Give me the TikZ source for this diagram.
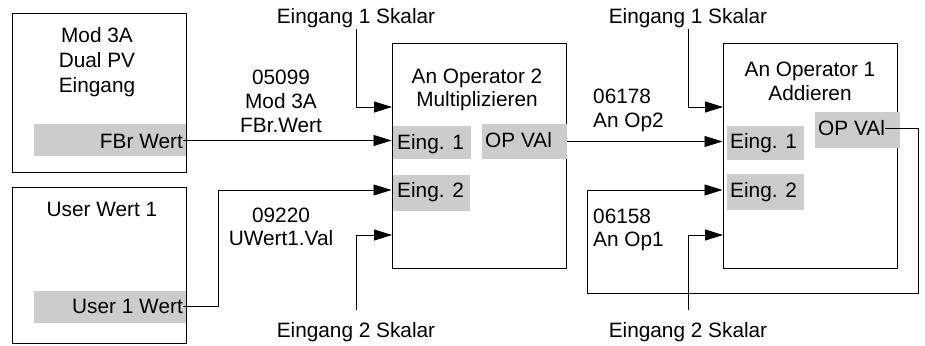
\documentclass[tikz,border=0pt]{standalone}
\usepackage{fontspec}
\setmainfont{Liberation Sans}
\usetikzlibrary{arrows.meta}
\definecolor{lgray}{RGB}{204,204,204}
\begin{document}
\begin{tikzpicture}[x=1pt,y=-1pt,
  font=\fontsize{20.8}{25}\selectfont,
  blk/.style={draw=black, line width=1pt, inner sep=0pt},
  gbox/.style={fill=lgray, draw=none, inner sep=0pt},
  lbl/.style={inner sep=0pt, text height=15pt, text depth=0pt},
  arr/.style={draw=black, line width=0.8pt, -{Triangle[length=18pt,width=11pt]}}]
\useasboundingbox (0,0) rectangle (925,345);

% blocks
\node[blk, minimum width=174, minimum height=158] (mod) at (99,93) {};
\node[blk, minimum width=174, minimum height=156] (usr) at (99,265) {};
\node[blk, minimum width=174, minimum height=224] (op2) at (479,156) {};
\node[blk, minimum width=174, minimum height=224] (op1) at (810,156) {};

% grey fields
\node[gbox, minimum width=152, minimum height=32] (fbrbg) at (110,140) {};
\node[gbox, minimum width=152, minimum height=32] (usrbg) at (110,307) {};
\node[gbox, minimum width=78, minimum height=33] (o2e1bg) at (432,142.5) {};
\node[gbox, minimum width=85, minimum height=35] (o2opbg) at (524.5,141.5) {};
\node[gbox, minimum width=77, minimum height=36] (o2e2bg) at (431.5,193) {};
\node[gbox, minimum width=77, minimum height=34] (o1e1bg) at (765.5,143) {};
\node[gbox, minimum width=77, minimum height=36] (o1e2bg) at (765.5,192) {};
\node[gbox, minimum width=85, minimum height=36] (o1opbg) at (857.5,130) {};

% block texts
\node[lbl] (mod1) at (97,35.5) {Mod 3A};
\node[lbl] (mod2) at (97,60) {Dual PV};
\node[lbl] (mod3) at (97,84.5) {Eingang};
\node[lbl] (usr1) at (102,209) {User Wert 1};
\node[lbl, anchor=east] (fbr) at (183,140.5) {FBr Wert};
\node[lbl, anchor=east] (utxt) at (183,306) {User 1 Wert};

\node[lbl] (o2t1) at (477,76) {An Operator 2};
\node[lbl] (o2t2) at (477,99) {Multiplizieren};
\node[lbl] (o1t1) at (810,69) {An Operator 1};
\node[lbl] (o1t2) at (810,93) {Addieren};

\node[lbl, anchor=west] (o2e1) at (397,141.5) {Eing. 1};
\node[lbl, anchor=west] (o2op) at (485,140) {OP VAl};
\node[lbl, anchor=west] (o2e2) at (397,190) {Eing. 2};
\node[lbl, anchor=west] (o1e1) at (730,141) {Eing. 1};
\node[lbl, anchor=west] (o1e2) at (730,190) {Eing. 2};
\node[lbl, anchor=west] (o1op) at (818,128) {OP VAl};

% wire labels
\node[lbl] (l1a) at (281,76.5) {05099};
\node[lbl] (l1b) at (281,100.5) {Mod 3A};
\node[lbl] (l1c) at (281,125) {FBr.Wert};
\node[lbl] (l2a) at (281,214.5) {09220};
\node[lbl] (l2b) at (281,238) {UWert1.Val};
\node[lbl, anchor=west] (l3a) at (593,95.5) {06178};
\node[lbl, anchor=west] (l3b) at (593,119.5) {An Op2};
\node[lbl, anchor=west] (l4a) at (593,215.5) {06158};
\node[lbl, anchor=west] (l4b) at (593,239) {An Op1};

% scalar labels
\node[lbl] (s21) at (356,16.5) {Eingang 1 Skalar};
\node[lbl] (s22) at (356,330) {Eingang 2 Skalar};
\node[lbl] (s11) at (688,16.5) {Eingang 1 Skalar};
\node[lbl] (s12) at (688,330) {Eingang 2 Skalar};

% helper coordinates
\coordinate (t2a) at (392,107);
\coordinate (t2d) at (392,235);
\coordinate (t1a) at (723,107);
\coordinate (t1d) at (723,235);
\coordinate (u2c) at (218,190);
\coordinate (r1) at (918,293);
\coordinate (r2) at (587,190);

% connectors
\draw[arr] (fbr.east) -- (fbr.east -| op2.west);
\draw[arr] (utxt.east) -| (u2c) -- (u2c -| op2.west);
\draw[arr, shorten <=5pt] (s21.south) |- (t2a);
\draw[arr, shorten <=12pt] (s22.north) |- (t2d);
\draw[arr] (o2opbg.east) -- (o2opbg.east -| op1.west);
\draw[arr] (o1op.east) -| (r1) -| (r2) -- (r2 -| op1.west);
\draw[arr, shorten <=5pt] (s11.south) |- (t1a);
\draw[arr, shorten <=12pt] (s12.north) |- (t1d);
\end{tikzpicture}
\end{document}
